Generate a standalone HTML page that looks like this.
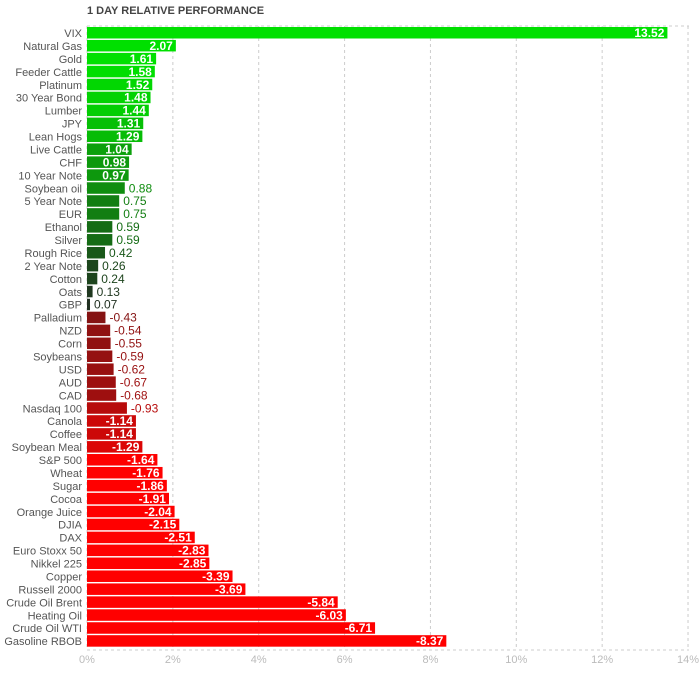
<!DOCTYPE html>
<html><head><meta charset="utf-8"><style>
body{margin:0;background:#fff;width:700px;height:669px;overflow:hidden;font-family:"Liberation Sans",sans-serif}
</style></head><body>
<svg id="s" width="700" height="669" xmlns="http://www.w3.org/2000/svg" font-family="Liberation Sans, sans-serif">
<text x="87" y="14" font-size="11" font-weight="bold" fill="#444">1 DAY RELATIVE PERFORMANCE</text>
</svg>
<script>
(function(){
const d=[["VIX",13.52],["Natural Gas",2.07],["Gold",1.61],["Feeder Cattle",1.58],["Platinum",1.52],["30 Year Bond",1.48],["Lumber",1.44],["JPY",1.31],["Lean Hogs",1.29],["Live Cattle",1.04],["CHF",0.98],["10 Year Note",0.97],["Soybean oil",0.88],["5 Year Note",0.75],["EUR",0.75],["Ethanol",0.59],["Silver",0.59],["Rough Rice",0.42],["2 Year Note",0.26],["Cotton",0.24],["Oats",0.13],["GBP",0.07],["Palladium",-0.43],["NZD",-0.54],["Corn",-0.55],["Soybeans",-0.59],["USD",-0.62],["AUD",-0.67],["CAD",-0.68],["Nasdaq 100",-0.93],["Canola",-1.14],["Coffee",-1.14],["Soybean Meal",-1.29],["S&P 500",-1.64],["Wheat",-1.76],["Sugar",-1.86],["Cocoa",-1.91],["Orange Juice",-2.04],["DJIA",-2.15],["DAX",-2.51],["Euro Stoxx 50",-2.83],["Nikkel 225",-2.85],["Copper",-3.39],["Russell 2000",-3.69],["Crude Oil Brent",-5.84],["Heating Oil",-6.03],["Crude Oil WTI",-6.71],["Gasoline RBOB",-8.37]];
const s=document.getElementById('s');let h='';
const x0=87,k=42.93,y0=27,step=12.94;
h+='<line x1="'+x0+'" y1="26" x2="689" y2="26" stroke="#ccc" stroke-dasharray="3,3"/>';
h+='<line x1="'+x0+'" y1="650" x2="689" y2="650" stroke="#ccc" stroke-dasharray="3,3"/>';
for(let i=0;i<=7;i++){const x=x0+i*2*k;h+='<line x1="'+x+'" y1="26" x2="'+x+'" y2="650" stroke="#ccc" stroke-dasharray="3,3"/><text x="'+x+'" y="663" font-size="11" fill="#bbb" text-anchor="middle">'+(i*2)+'%</text>';}
function mix(a,b,t){return 'rgb('+a.map(function(v,i){return Math.round(v+(b[i]-v)*t);}).join(',')+')';}
d.forEach(function(r,i){const v=r[1],a=Math.abs(v),w=a*k,y=y0+i*step,cy=y+10;
const c=v>0?mix([34,40,34],[0,224,0],Math.min(a/1.6,1)):mix([90,26,26],[255,0,0],Math.min(a/1.65,1));
h+='<text x="82" y="'+cy+'" font-size="11" fill="#555" text-anchor="end">'+r[0].replace('&','&amp;')+'</text>';
h+='<rect x="'+x0+'" y="'+y+'" width="'+w+'" height="11.5" fill="'+c+'"/>';
const lab=v.toFixed(2);
if(a>=0.95) h+='<text x="'+(x0+w-3)+'" y="'+cy+'" font-size="12" font-weight="bold" fill="#fff" text-anchor="end">'+lab+'</text>';
else h+='<text x="'+(x0+w+4)+'" y="'+cy+'" font-size="12" fill="'+c+'">'+lab+'</text>';});
s.insertAdjacentHTML('beforeend',h);
})();
</script>
</body></html>
